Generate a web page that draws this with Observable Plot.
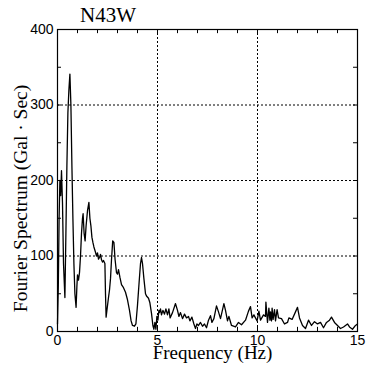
<!DOCTYPE html>
<html>
<head>
<meta charset="utf-8">
<script src="https://cdn.jsdelivr.net/npm/d3@7"></script>
<script src="https://cdn.jsdelivr.net/npm/@observablehq/plot@0.6"></script>
<style>
  html, body { margin: 0; padding: 0; background: #fff; }
  #title { height: 22px; box-sizing: border-box; padding-top: 4px; width: 216px; text-align: center;
           font-family: "Liberation Serif", serif; font-size: 21px; line-height: 22px; color: #000; }
  #chart svg { display: block; }
  #chart svg g[aria-label="text"] text { font-family: "Liberation Serif", serif !important; }
  #chart svg g[aria-label$="tick label"] text { font-family: "Liberation Sans", sans-serif !important; }
</style>
</head>
<body>
<div id="title"></div>
<div id="chart"></div>
<script>
const titleText = "N43W";
const xLabel = "Frequency (Hz)";
const yLabel = "Fourier Spectrum (Gal · Sec)";

const xTickLabels = [0, 5, 10, 15];
const yTickLabels = [0, 100, 200, 300, 400];
const xGrid = [5, 10];
const yGrid = [100, 200, 300];
const xMinor = [1, 2, 3, 4, 5, 6, 7, 8, 9, 10, 11, 12, 13, 14];
const yMinor = [50, 100, 150, 200, 250, 300, 350];

const freq = [
  0.00, 0.04, 0.08, 0.12, 0.16, 0.20, 0.25, 0.30, 0.37, 0.42, 0.47, 0.52, 0.57, 0.62,
  0.67, 0.72, 0.77, 0.82, 0.87, 0.93, 0.97, 1.00, 1.05, 1.10, 1.15, 1.20, 1.25, 1.28,
  1.33, 1.38, 1.43, 1.50, 1.57, 1.62, 1.67, 1.72, 1.77, 1.82, 1.90, 1.95, 2.00, 2.05,
  2.10, 2.15, 2.20, 2.25, 2.30, 2.37, 2.40, 2.43, 2.48, 2.55, 2.60, 2.65, 2.70, 2.76,
  2.82, 2.88, 2.95, 3.00, 3.05, 3.12, 3.20, 3.30, 3.40, 3.50, 3.60, 3.68, 3.75, 3.85,
  3.92, 4.00, 4.08, 4.15, 4.20, 4.25, 4.32, 4.40, 4.45, 4.55, 4.62, 4.70, 4.77, 4.82,
  4.87, 4.92, 4.97, 5.02, 5.07, 5.10, 5.15, 5.20, 5.27, 5.35, 5.42, 5.50, 5.57, 5.63,
  5.75, 5.90, 6.00, 6.07, 6.15, 6.25, 6.35, 6.45, 6.55, 6.62, 6.72, 6.82, 6.90, 6.97,
  7.05, 7.15, 7.25, 7.35, 7.45, 7.55, 7.65, 7.72, 7.82, 7.95, 8.05, 8.15, 8.32, 8.40,
  8.50, 8.57, 8.70, 8.90, 9.05, 9.20, 9.40, 9.55, 9.65, 9.73, 9.82, 9.98, 10.07, 10.15,
  10.30, 10.40, 10.42, 10.50, 10.57, 10.62, 10.65, 10.70, 10.73, 10.78, 10.85, 10.90,
  10.98, 11.05, 11.20, 11.35, 11.50, 11.57, 11.73, 11.90, 12.00, 12.10, 12.25, 12.40,
  12.55, 12.70, 12.85, 13.00, 13.15, 13.30, 13.45, 13.60, 13.70, 13.85, 14.00, 14.15,
  14.30, 14.50, 14.60, 14.75, 14.90, 15.00
];
const amp = [
  10, 60, 150, 200, 180, 213, 170, 90, 45, 130, 220, 290, 320, 341,
  300, 220, 150, 90, 50, 32, 60, 75, 68, 78, 100, 130, 150, 156,
  130, 120, 140, 160, 171, 150, 140, 125, 118, 112, 105, 100, 104, 96,
  98, 102, 95, 92, 94, 90, 50, 19, 30, 45, 55, 70, 95, 120,
  118, 95, 78, 76, 82, 72, 62, 58, 52, 42, 28, 14, 8, 7,
  10, 35, 65, 90, 98, 90, 70, 50, 47, 44, 38, 24, 8, 3,
  12, 3, 20, 15, 28, 25, 30, 22, 28, 23, 30, 22, 30, 18,
  25, 37, 28, 20, 25, 17, 23, 18, 20, 14, 19, 10, 4, 10,
  8, 12, 7, 10, 5, 15, 21, 12, 17, 34, 26, 17, 37, 28,
  14, 20, 8, 6, 12, 9, 15, 27, 33, 18, 22, 14, 27, 15,
  22, 20, 39, 12, 31, 15, 26, 14, 31, 16, 29, 14,
  29, 18, 17, 10, 12, 18, 16, 26, 32, 18, 8, 4,
  15, 8, 13, 10, 12, 5, 12, 15, 19, 12, 8, 4,
  6, 10, 6, 3, 8, 10
];

const data = freq.map((f, i) => ({f, a: amp[i]}));
document.getElementById("title").textContent = titleText;

const chart = Plot.plot({
  width: 369,
  height: 347,
  marginTop: 7,
  marginBottom: 38,
  marginLeft: 57,
  marginRight: 12,
  x: {domain: [0, 15]},
  y: {domain: [0, 400]},
  marks: [
    Plot.ruleX(xGrid, {stroke: "black", strokeWidth: 1, strokeDasharray: "2,2"}),
    Plot.ruleY(yGrid, {stroke: "black", strokeWidth: 1, strokeDasharray: "2,2"}),
    Plot.ruleX(xMinor, {x: d => d, y1: 0, y2: 5.5, stroke: "black", strokeWidth: 1}),
    Plot.ruleX(xMinor, {x: d => d, y1: 394.5, y2: 400, stroke: "black", strokeWidth: 1}),
    Plot.ruleY(yMinor, {y: d => d, x1: 0, x2: 0.2, stroke: "black", strokeWidth: 1}),
    Plot.ruleY(yMinor, {y: d => d, x1: 14.8, x2: 15, stroke: "black", strokeWidth: 1}),
    Plot.line(data, {x: "f", y: "a", stroke: "black", strokeWidth: 1.3}),
    Plot.frame({stroke: "black", strokeWidth: 1.2}),
    Plot.axisX(xTickLabels, {tickSize: 0, tickPadding: 4, fontSize: 14, fontFamily: "Liberation Sans", label: null}),
    Plot.axisY(yTickLabels, {tickSize: 0, tickPadding: 4, fontSize: 14, fontFamily: "Liberation Sans", label: null}),
    Plot.text([xLabel], {frameAnchor: "bottom", dx: 5, dy: 27, textAnchor: "middle", fontSize: 19, fontFamily: "Liberation Serif"}),
    Plot.text([yLabel], {frameAnchor: "left", dx: -37, dy: 18, rotate: -90, textAnchor: "middle", fontSize: 19.5, fontFamily: "Liberation Serif"})
  ]
});
document.getElementById("chart").appendChild(chart);
</script>
</body>
</html>
